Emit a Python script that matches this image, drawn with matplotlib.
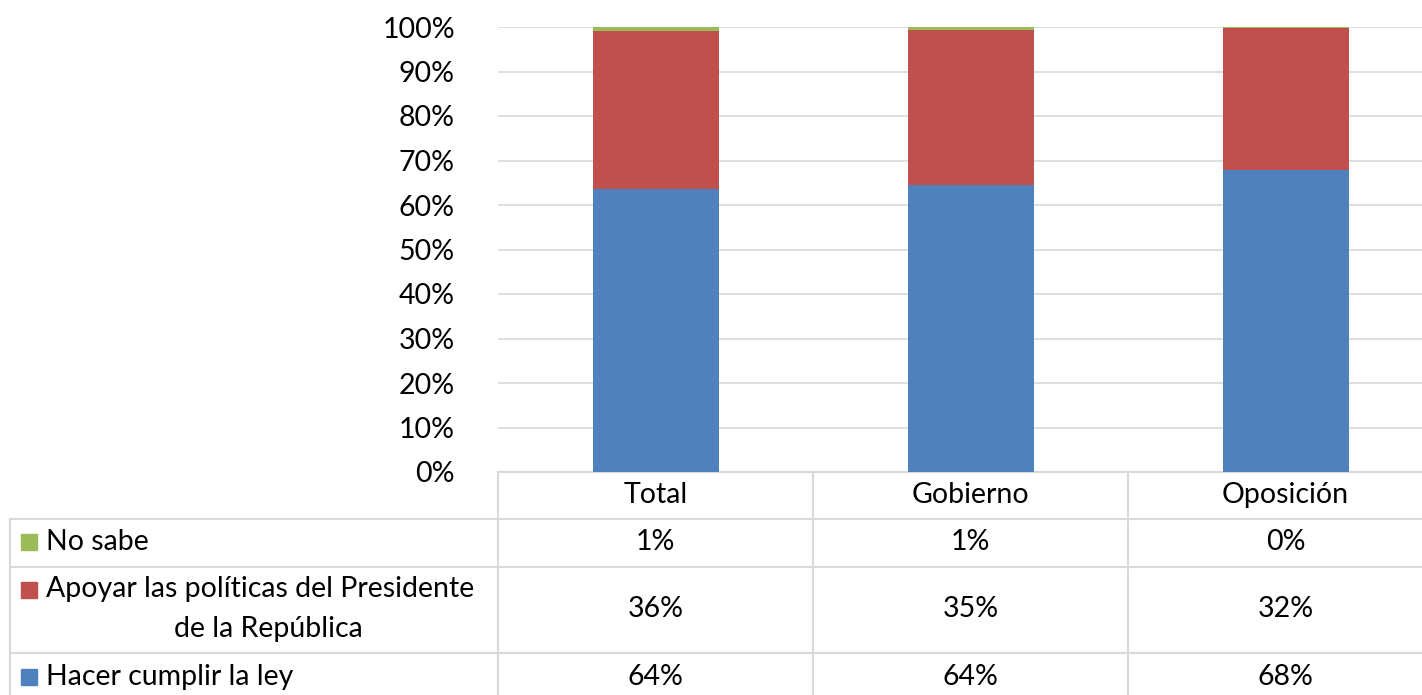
import matplotlib.pyplot as plt
from matplotlib.patches import Rectangle

categories = ["Total", "Gobierno", "Oposición"]
hacer = [63.5, 64.4, 67.8]
apoyar = [35.6, 35.0, 31.9]
no_sabe = [0.9, 0.6, 0.3]

series_names = ["No sabe", "Apoyar las políticas del Presidente\nde la República", "Hacer cumplir la ley"]
colors = {"hacer": "#4F81BD", "apoyar": "#C0504D", "no_sabe": "#9BBB59"}

plt.rcParams["font.family"] = ["Lato", "DejaVu Sans"]
FS = 20.5

W, H = 1422, 695
AX_L, AX_W = 498, 945  # plot area runs a bit past the right edge
fig = plt.figure(figsize=(W / 100, H / 100), dpi=100)
ax = fig.add_axes([AX_L / W, (H - 472) / H, AX_W / W, 445 / H])

x = range(len(categories))
bw = 0.4
ax.bar(x, hacer, bw, color=colors["hacer"], zorder=3)
ax.bar(x, apoyar, bw, bottom=hacer, color=colors["apoyar"], zorder=3)
bottoms = [a + b for a, b in zip(hacer, apoyar)]
ax.bar(x, no_sabe, bw, bottom=bottoms, color=colors["no_sabe"], zorder=3)

ax.set_xlim(-0.5, 2.5)
ax.set_ylim(0, 100)
ax.set_yticks(range(0, 101, 10))
ax.set_yticklabels([f"{t}%" for t in range(0, 101, 10)], fontsize=FS)
ax.yaxis.grid(True, color="#D9D9D9", linewidth=1.2, zorder=0)
ax.tick_params(axis="y", length=0, pad=31)
ax.tick_params(axis="x", bottom=False, labelbottom=False)
for s in ax.spines.values():
    s.set_visible(False)

# data table below the plot (pixel layout converted to axes fraction)
def fy(py):
    return -(py - 472) / 445

line_kw = dict(color="#D9D9D9", linewidth=1.5, clip_on=False, transform=ax.transAxes)
col_w = 1 / 3
left_frac = -(AX_L - 10) / AX_W

ax.plot([0, 1], [fy(472), fy(472)], **line_kw)
for py in (519, 567, 653):
    ax.plot([left_frac, 1], [fy(py), fy(py)], **line_kw)
ax.plot([0, 0], [fy(472), fy(H)], **line_kw)
for i in (1, 2):
    ax.plot([i * col_w, i * col_w], [fy(472), fy(H)], **line_kw)
ax.plot([left_frac, left_frac], [fy(519), fy(H)], **line_kw)

rows = [
    (series_names[0], no_sabe, colors["no_sabe"], 542),
    (series_names[1], apoyar, colors["apoyar"], 609),
    (series_names[2], hacer, colors["hacer"], 677),
]

for j, cat in enumerate(categories):
    ax.text((j + 0.5) * col_w, fy(495), cat, transform=ax.transAxes,
            ha="center", va="center", fontsize=FS)

for name, vals, col, py in rows:
    for j, v in enumerate(vals):
        ax.text((j + 0.5) * col_w, fy(py), f"{int(v + 0.5)}%", transform=ax.transAxes,
                ha="center", va="center", fontsize=FS)
    if "\n" in name:
        first, second = name.split("\n")
        fig.text(46 / W, (H - 589) / H, first, ha="left", va="center", fontsize=FS)
        fig.text(268 / W, (H - 629) / H, second, ha="center", va="center", fontsize=FS)
        ky = 590
    else:
        fig.text(46 / W, (H - py) / H, name, ha="left", va="center", fontsize=FS)
        ky = py
    fig.patches.append(Rectangle((21 / W, (H - ky - 8) / H), 16 / W, 16 / H,
                                 transform=fig.transFigure, color=col, figure=fig))

fig.savefig("out.png", dpi=100)
